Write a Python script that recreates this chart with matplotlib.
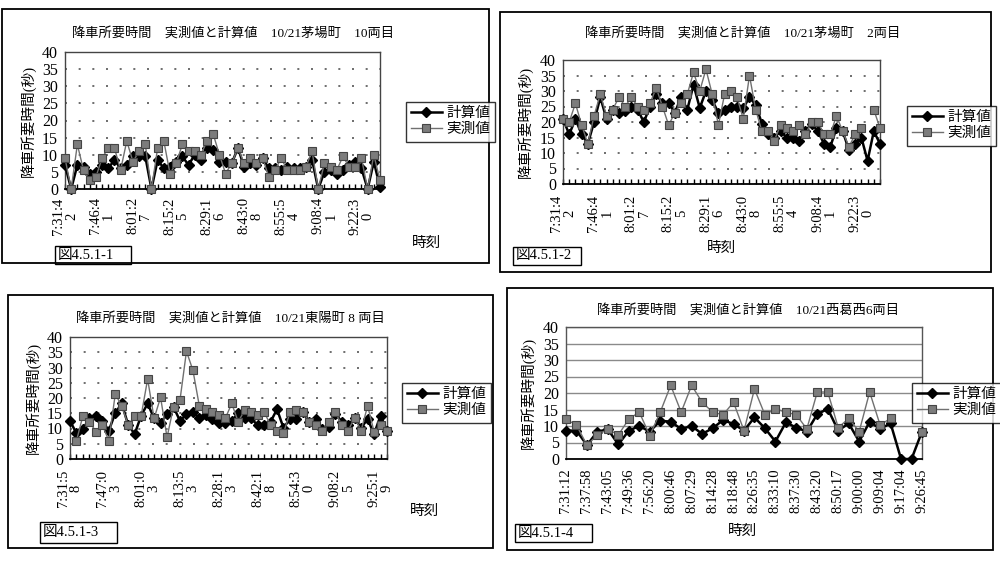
import numpy as np
import matplotlib
matplotlib.use("Agg")
import matplotlib.pyplot as plt
from matplotlib.patches import Rectangle
from matplotlib.transforms import ScaledTranslation

plt.rcParams['font.family'] = ['Liberation Serif', 'Noto Sans CJK JP']

nan = float('nan')

# ---------------- data ----------------
titles = [
    "降車所要時間　実測値と計算値　10/21茅場町　10両目",
    "降車所要時間　実測値と計算値　10/21茅場町　2両目",
    "降車所要時間　実測値と計算値　10/21東陽町 8 両目",
    "降車所要時間　実測値と計算値　10/21西葛西6両目",
]
fig_ids = ["図4.5.1-1", "図4.5.1-2", "図4.5.1-3", "図4.5.1-4"]
series_names = ["計算値", "実測値"]

time_labels_kayabacho = ['7:31:42', '7:46:41', '8:01:27', '8:15:25', '8:29:16',
                         '8:43:08', '8:55:54', '9:08:41', '9:22:30']
time_labels_toyocho = ['7:31:58', '7:47:03', '8:01:03', '8:13:53', '8:28:13',
                       '8:42:18', '8:54:30', '9:08:25', '9:25:19']
time_labels_nishikasai = ['7:31:12', '7:37:58', '7:43:05', '7:49:36', '7:56:20',
                          '8:00:46', '8:07:29', '8:14:28', '8:18:48', '8:26:35',
                          '8:33:10', '8:37:30', '8:43:20', '8:50:17', '9:00:00',
                          '9:09:04', '9:17:04', '9:26:45']

calc1 = [7, 0, 7, 6.5, 4.5, 5, 7, 6, 8.5, 6, 7, 9.5, 9.5, 9.5, 0, 8.5, 6, 6.5, 8, 9.5,
         7, 10, 8.5, 12, 11.5, 8, 8, 7.5, 12, 6.5, 7.5, 7, 9, 6, 6, 5.5, 6.5, 6, 6, 6.5,
         8.5, 0, 5, 5.5, 4.5, 5.5, 7, 8, 6, 0, 8, 0.5]
meas1 = [9, 0, 13, 5.5, 2.5, 3.5, 9, 12, 12, 5.5, 14, 8, 11, 13, 0, 12, 14, 4.5, 7.5, 13,
         11, 11, 10, 14, 16, 10, 4.5, 7.5, 12, 7.5, 9, 7.5, 9, 3.5, 5.5, 9, 5.5, 5.5, 5.5, 6.5,
         11, 0, 7.5, 6.5, 5.5, 9.5, 6.5, 6.5, 9, 0, 10, 2.5]

calc2 = [21, 16, 21, 16, 13, 20, 28, 21, 24, 23, 23.5, 25, 24, 20, 25, 29, 26, 26, 23, 28,
         24, 32, 24.5, 30, 27, 23, 24, 25, 25, 24.5, 28, 25.5, 19.5, 16, 15, 17, 15, 15, 14, 17,
         19.5, 17, 13, 12, 18, 17, 11, 13, 15, 7.5, 17, 13]
meas2 = [21, 20, 26, 19, 13, 22, 29, 22, 24, 28, 25, 28, 25, 24, 26, 31, 25, 19, 23, 26,
         29, 36, 30, 37, 29, 19, 29, 30, 28, 21, 35, 24, 17, 17, 14, 19, 18, 17, 19, 16,
         20, 20, 16, 16, 22, 17, 12, 16, 18, nan, 24, 18]

calc3 = [12.5, 8.4, 9.8, 13.3, 14.2, 12.5, 9.3, 15.1, 18.2, 11.1, 8.2, 14.2, 18.2, 13.3, 11.9,
         14.6, 17.1, 12.5, 14.7, 15.5, 13.3, 14.4, 13, 11.9, 11.9, 12.4, 15.1, 13.3, 13.3, 11.1,
         11.3, 12.2, 16.3, 10.2, 13.1, 13.1, 15.3, 12.2, 13, 10, 10.6, 14.9, 12.2, 11.3, 13.3,
         10.2, 13.1, 8.2, 14.2, 9.3]
meas3 = [nan, 6, 14.2, 12.2, 9, 11.1, 6, 21.3, 17.4, 11.1, 14.2, 14.2, 26.2, 13.3, 20.2,
         7.1, 17.1, 19.3, 35.3, 29.1, 17.3, 16.3, 15.3, 14.4, 13.3, 18.2, 12.2, 16, 15.3, 14.4,
         15.3, 11.3, 9.3, 8.4, 15.3, 16.2, 15.3, 12.2, 11.1, 9.3, 12.2, 15.3, 11.3, 9.3, 13.6,
         9.3, 17.4, 9, 11.3, 9.3]

calc4 = [8.6, 8.6, 4.2, 8.3, 9, 4.4, 8.6, 10, 8.3, 11.6, 11.3, 9.1, 10, 7.6, 9.3, 11.8,
         10.6, 8.6, 12.6, 9.3, 5.3, 11.1, 9.5, 8.3, 13.6, 15.2, 8.6, 10.8, 5.3, 11.3, 9.1,
         10.8, 0, 0, 8.3]
meas4 = [12, 10.3, 4.2, 7.3, 9, 7.3, 12.1, 14.2, 7.1, 14.2, 22.3, 14.2, 22.3, 17.2, 14.2,
         13.4, 17.2, 8.6, 21.2, 13.4, 15.2, 14.2, 13.4, 9.1, 20.3, 20.3, 9.5, 12.3, 8.3, 20.3,
         10.3, 12.3, nan, nan, 8.3]

# ---------------- figure ----------------
W, H = 1000, 563
fig = plt.figure(figsize=(W / 100, H / 100), dpi=100)
fig.patch.set_facecolor('white')


def fx(px):
    return px / W


def fy(py):
    return 1 - py / H


def frame(x0, y0, x1, y1, lw=1.2):
    fig.add_artist(Rectangle((fx(x0), fy(y1)), fx(x1) - fx(x0), fy(y0) - fy(y1),
                             transform=fig.transFigure, fill=False, ec='black', lw=lw))


panels = [
    dict(calc=calc1, meas=meas1, tl=time_labels_kayabacho, step=6, wrap=True,
         box=(2, 9, 489, 263), plot=(65, 52, 380, 189), title_xy=(233, 33),
         ylab_x=28, leg=(406, 102), xlab_xy=(427, 243), xlab_ha='center',
         idbox=(55, 246, 131, 264), pad=6, grid='dot'),
    dict(calc=calc2, meas=meas2, tl=time_labels_kayabacho, step=6, wrap=True,
         box=(500, 12, 991, 272), plot=(563, 60, 880, 184), title_xy=(743, 33),
         ylab_x=525, leg=(907, 106), xlab_xy=(722, 248), xlab_ha='center',
         idbox=(513, 247, 581, 265), pad=8, grid='dot'),
    dict(calc=calc3, meas=meas3, tl=time_labels_toyocho, step=6, wrap=True,
         box=(8, 295, 493, 548), plot=(70, 337, 387, 459), title_xy=(230, 318),
         ylab_x=33, leg=(402, 383), xlab_xy=(425, 511), xlab_ha='center',
         idbox=(40, 522, 117, 543), pad=8, grid='dot'),
    dict(calc=calc4, meas=meas4, tl=time_labels_nishikasai, step=2, wrap=False,
         box=(507, 288, 993, 550), plot=(566, 327, 922, 459), title_xy=(748, 310),
         ylab_x=528, leg=(912, 383), xlab_xy=(743, 531), xlab_ha='center',
         idbox=(515, 524, 592, 542), pad=7, grid='solid'),
]

shift = ScaledTranslation(4 / 100, 0, fig.dpi_scale_trans)

for i, p in enumerate(panels):
    frame(*p['box'], lw=1.3)
    x0, y0, x1, y1 = p['plot']
    ax = fig.add_axes([fx(x0), fy(y1), fx(x1) - fx(x0), fy(y0) - fy(y1)])
    n = len(p['calc'])
    xs = np.arange(n)
    hc, = ax.plot(xs, p['calc'], color='black', lw=1.8, marker='D', ms=5,
                  mfc='black', mec='black', clip_on=False, zorder=3,
                  label=series_names[0])
    hm, = ax.plot(xs, p['meas'], color='#707070', lw=1.0, marker='s', ms=5.5,
                  mfc='#7c7c7c', mec='#454545', mew=0.8, clip_on=False, zorder=4,
                  label=series_names[1])
    ax.set_xlim(0, n - 1)
    ax.set_ylim(0, 40)
    ax.set_yticks(np.arange(0, 41, 5))
    ax.tick_params(axis='y', length=0, pad=5, labelsize=11.5)
    labels = [''] * n
    for k, s in enumerate(p['tl']):
        idx = k * p['step']
        if idx < n:
            labels[idx] = (s[:6] + '\n' + s[6:]) if p['wrap'] else s
    ax.set_xticks(xs)
    ax.set_xticklabels(labels, rotation=90, fontsize=10.5, va='top', ha='center',
                       multialignment='center', linespacing=1.0)
    if p['wrap']:
        for lab in ax.get_xticklabels():
            lab.set_transform(lab.get_transform() + shift)
    if p['grid'] == 'dot':
        ax.tick_params(axis='x', direction='in', length=3.5, width=1.0, pad=p['pad'])
        ax.yaxis.grid(True, color='#555555', linestyle=(0, (1.2, 7)), lw=1.2)
        for s in ['left', 'top', 'right']:
            ax.spines[s].set_color('#444444')
            ax.spines[s].set_linewidth(1.0)
    else:
        ax.tick_params(axis='x', length=0, pad=p['pad'])
        ax.yaxis.grid(True, color='#8a8a8a', linestyle='-', lw=1.0)
        for s in ['left', 'top', 'right']:
            ax.spines[s].set_color('#555555')
            ax.spines[s].set_linewidth(1.0)
    ax.spines['bottom'].set_color('black')
    ax.spines['bottom'].set_linewidth(1.3)
    ax.set_axisbelow(True)

    fig.text(fx(p['title_xy'][0]), fy(p['title_xy'][1]), titles[i], ha='center',
             va='center', fontsize=9.5)
    fig.text(fx(p['ylab_x']), (fy(y0) + fy(y1)) / 2, "降車所要時間(秒)", rotation=90,
             ha='center', va='center', fontsize=10.5)
    fig.text(fx(p['xlab_xy'][0]), fy(p['xlab_xy'][1]), "時刻", ha=p['xlab_ha'],
             va='center', fontsize=10.5)
    leg = fig.legend(handles=[hc, hm], loc='upper left',
                     bbox_to_anchor=(fx(p['leg'][0]), fy(p['leg'][1])),
                     fontsize=10.5, frameon=True, fancybox=False, edgecolor='black',
                     handlelength=2.1, handletextpad=0.3, borderpad=0.35,
                     labelspacing=0.2, borderaxespad=0.0)
    leg.get_frame().set_linewidth(1.0)
    bx0, by0, bx1, by1 = p['idbox']
    frame(bx0, by0, bx1, by1, lw=1.0)
    fig.text(fx(bx0 + 3), fy((by0 + by1) / 2), fig_ids[i], ha='left', va='center',
             fontsize=10.5)

fig.savefig('out.png', dpi=100, facecolor='white')
